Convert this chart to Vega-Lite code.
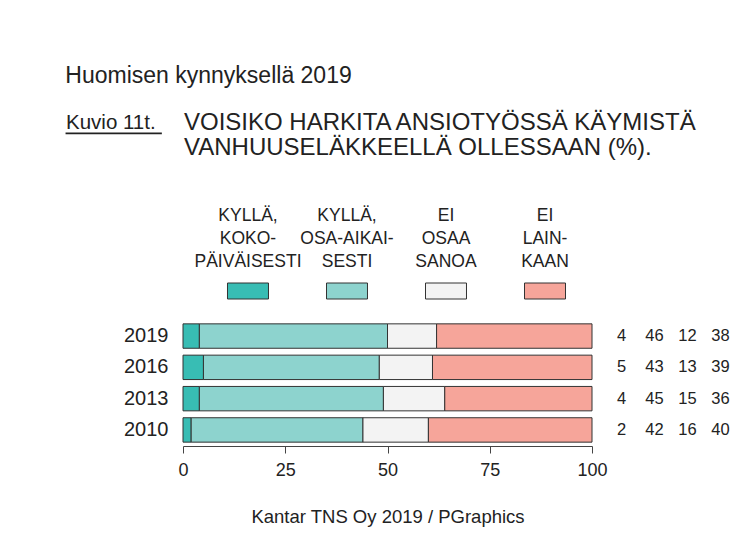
{
  "$schema": "https://vega.github.io/schema/vega-lite/v6.json",
  "background": "white",
  "padding": {"left": 65, "top": 64, "right": 5, "bottom": 5},
  "title": {"text": "Huomisen kynnyksellä 2019", "anchor": "start", "fontSize": 23, "fontWeight": "normal", "offset": 23.5, "color": "#222"},
  "datasets": {
    "survey": [
      {"year": "2019", "answer": "KYLLÄ, KOKOPÄIVÄISESTI", "ord": 1, "pct": 4},
      {"year": "2019", "answer": "KYLLÄ, OSA-AIKAISESTI", "ord": 2, "pct": 46},
      {"year": "2019", "answer": "EI OSAA SANOA", "ord": 3, "pct": 12},
      {"year": "2019", "answer": "EI LAINKAAN", "ord": 4, "pct": 38},
      {"year": "2016", "answer": "KYLLÄ, KOKOPÄIVÄISESTI", "ord": 1, "pct": 5},
      {"year": "2016", "answer": "KYLLÄ, OSA-AIKAISESTI", "ord": 2, "pct": 43},
      {"year": "2016", "answer": "EI OSAA SANOA", "ord": 3, "pct": 13},
      {"year": "2016", "answer": "EI LAINKAAN", "ord": 4, "pct": 39},
      {"year": "2013", "answer": "KYLLÄ, KOKOPÄIVÄISESTI", "ord": 1, "pct": 4},
      {"year": "2013", "answer": "KYLLÄ, OSA-AIKAISESTI", "ord": 2, "pct": 45},
      {"year": "2013", "answer": "EI OSAA SANOA", "ord": 3, "pct": 15},
      {"year": "2013", "answer": "EI LAINKAAN", "ord": 4, "pct": 36},
      {"year": "2010", "answer": "KYLLÄ, KOKOPÄIVÄISESTI", "ord": 1, "pct": 2},
      {"year": "2010", "answer": "KYLLÄ, OSA-AIKAISESTI", "ord": 2, "pct": 42},
      {"year": "2010", "answer": "EI OSAA SANOA", "ord": 3, "pct": 16},
      {"year": "2010", "answer": "EI LAINKAAN", "ord": 4, "pct": 40}
    ],
    "cats": [
      {"answer": "KYLLÄ, KOKOPÄIVÄISESTI"},
      {"answer": "KYLLÄ, OSA-AIKAISESTI"},
      {"answer": "EI OSAA SANOA"},
      {"answer": "EI LAINKAAN"}
    ],
    "blank": [{}]
  },
  "align": "none",
  "spacing": 20,
  "resolve": {"scale": {"x": "independent", "y": "independent"}},
  "vconcat": [
    {
      "spacing": 22,
      "resolve": {"scale": {"x": "independent", "y": "independent"}},
      "hconcat": [
        {
          "width": 95,
          "height": 0.5,
          "data": {"name": "blank"},
          "mark": {"type": "text"},
          "encoding": {},
          "view": {"stroke": "#222", "strokeWidth": 1.3},
          "title": {"text": "Kuvio 11t.", "anchor": "start", "fontSize": 20.5, "fontWeight": "normal", "offset": -6, "color": "#222"}
        },
        {
          "width": 1,
          "height": 0.5,
          "data": {"name": "blank"},
          "mark": {"type": "text"},
          "encoding": {},
          "title": {"text": ["VOISIKO HARKITA ANSIOTYÖSSÄ KÄYMISTÄ", "VANHUUSELÄKKEELLÄ OLLESSAAN (%)."], "anchor": "start", "fontSize": 24, "lineHeight": 25, "fontWeight": "normal", "offset": -33, "color": "#222"}
        }
      ]
    },
    {
      "width": 527,
      "height": 16,
      "data": {"name": "cats"},
      "mark": {"type": "rect", "stroke": "#333", "strokeWidth": 1},
      "encoding": {
        "x": {
          "field": "answer", "type": "nominal",
          "scale": {"domain": ["KYLLÄ, KOKOPÄIVÄISESTI", "KYLLÄ, OSA-AIKAISESTI", "EI OSAA SANOA", "EI LAINKAAN"], "paddingInner": 0.586, "paddingOuter": 0.9545, "align": 0.8545},
          "axis": {
            "orient": "top", "title": null, "domain": false, "ticks": false, "tickSize": 0,
            "labelAngle": 0, "labelAlign": "center", "labelBaseline": "top",
            "labelFontSize": 17.5, "labelLineHeight": 23, "labelPadding": 76.4,
            "labelOverlap": false, "labelBound": false, "labelFlush": false, "labelLimit": 0,
            "minExtent": 101.3,
            "labelExpr": "datum.value == 'KYLLÄ, KOKOPÄIVÄISESTI' ? ['KYLLÄ,', 'KOKO-', 'PÄIVÄISESTI'] : datum.value == 'KYLLÄ, OSA-AIKAISESTI' ? ['KYLLÄ,', 'OSA-AIKAI-', 'SESTI'] : datum.value == 'EI OSAA SANOA' ? ['EI', 'OSAA', 'SANOA'] : ['EI', 'LAIN-', 'KAAN']"
          }
        },
        "color": {
          "field": "answer", "type": "nominal", "legend": null,
          "scale": {"domain": ["KYLLÄ, KOKOPÄIVÄISESTI", "KYLLÄ, OSA-AIKAISESTI", "EI OSAA SANOA", "EI LAINKAAN"], "range": ["#38BDB4", "#8DD3CE", "#F3F3F3", "#F6A59A"]}
        }
      }
    },
    {
      "spacing": 7,
      "resolve": {"scale": {"x": "independent", "y": "independent"}},
      "hconcat": [
        {
          "width": 50,
          "height": 126,
          "data": {"name": "blank"},
          "mark": {"type": "text"},
          "encoding": {}
        },
        {
          "width": 409,
          "height": 126,
          "data": {"name": "survey"},
          "mark": {"type": "bar", "stroke": "#333", "strokeWidth": 1},
          "encoding": {
            "y": {
              "field": "year", "type": "ordinal", "sort": ["2019", "2016", "2013", "2010"],
              "scale": {"paddingInner": 0.22, "paddingOuter": 0.123},
              "axis": {"title": null, "domain": false, "ticks": false, "labelPadding": 15, "labelFontSize": 20, "minExtent": 60, "maxExtent": 60}
            },
            "x": {
              "field": "pct", "type": "quantitative", "stack": "zero",
              "scale": {"domain": [0, 100], "nice": false},
              "axis": {
                "values": [0, 25, 50, 75, 100], "grid": false, "domainColor": "#444", "tickColor": "#444",
                "tickSize": 7, "labelPadding": 8.5, "labelFontSize": 18, "labelFlush": false,
                "title": "Kantar TNS Oy 2019 / PGraphics", "titleFontSize": 18.5, "titleFontWeight": "normal", "titlePadding": 28
              }
            },
            "color": {
              "field": "answer", "type": "nominal", "legend": null,
              "scale": {"domain": ["KYLLÄ, KOKOPÄIVÄISESTI", "KYLLÄ, OSA-AIKAISESTI", "EI OSAA SANOA", "EI LAINKAAN"], "range": ["#38BDB4", "#8DD3CE", "#F3F3F3", "#F6A59A"]}
            },
            "order": {"field": "ord", "type": "quantitative"}
          }
        },
        {
          "width": 112,
          "height": 126,
          "data": {"name": "survey"},
          "mark": {"type": "text", "fontSize": 16.5, "color": "#222", "align": "center", "baseline": "middle"},
          "encoding": {
            "y": {
              "field": "year", "type": "ordinal", "sort": ["2019", "2016", "2013", "2010"],
              "scale": {"paddingInner": 0.22, "paddingOuter": 0.123},
              "axis": null
            },
            "x": {
              "field": "answer", "type": "nominal",
              "scale": {"type": "point", "domain": ["KYLLÄ, KOKOPÄIVÄISESTI", "KYLLÄ, OSA-AIKAISESTI", "EI OSAA SANOA", "EI LAINKAAN"], "padding": 0.2},
              "axis": null
            },
            "text": {"field": "pct", "type": "quantitative"}
          }
        }
      ]
    }
  ],
  "config": {
    "font": "Liberation Sans",
    "view": {"stroke": null},
    "title": {"fontWeight": "normal", "color": "#222"},
    "axis": {"labelColor": "#222", "titleColor": "#222"},
    "text": {"color": "#222"}
  }
}
